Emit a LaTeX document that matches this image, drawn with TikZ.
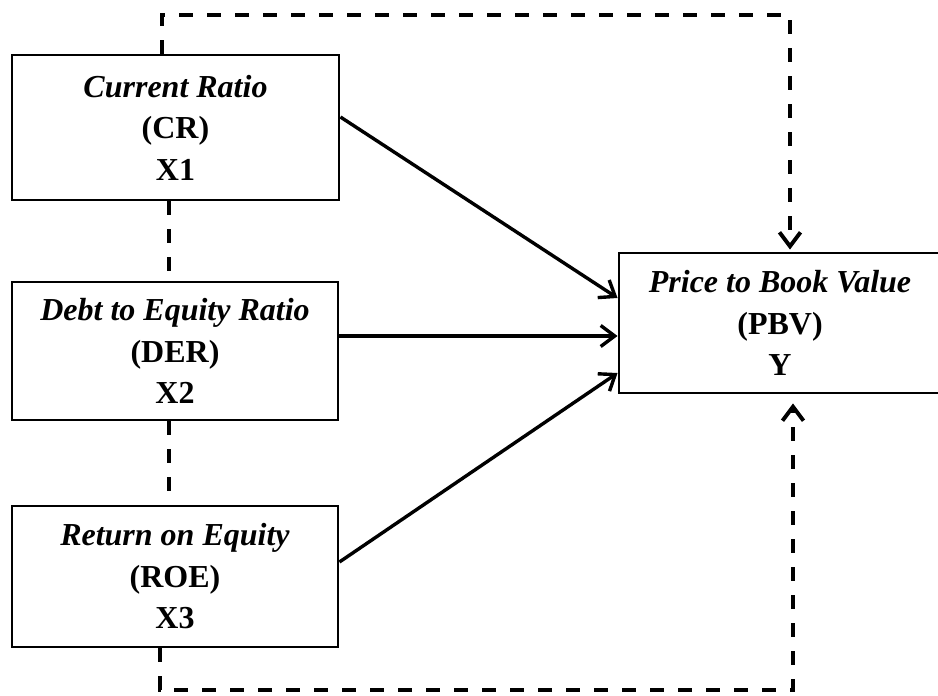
\documentclass[tikz,border=0pt]{standalone}
\usepackage{fontspec}
\setmainfont{Liberation Serif}
\usetikzlibrary{arrows.meta}
\begin{document}
\begin{tikzpicture}[x=1pt,y=-1pt,
  box/.style={draw,line width=2.9pt,rectangle,align=center,inner sep=0pt,
    font=\fontsize{32}{41.5}\selectfont\bfseries},
  solidarrow/.style={line width=3.4pt,-{Straight Barb[length=14pt,width=21pt]}},
  dashline/.style={line width=3.9pt,dash pattern=on 14pt off 14pt},
  dasharrow/.style={dashline,-{Straight Barb[length=14pt,width=21pt]}}]
\useasboundingbox (0,0) rectangle (938,696);
\node[box,minimum width=327pt,minimum height=145pt] (cr) at (175.5,127.5)
  {\textit{Current Ratio}\\ (CR)\\ X1};
\node[box,minimum width=326pt,minimum height=138pt] (der) at (175,351)
  {\textit{Debt to Equity Ratio}\\ (DER)\\ X2};
\node[box,minimum width=326pt,minimum height=141pt] (roe) at (175,576.5)
  {\textit{Return on Equity}\\ (ROE)\\ X3};
\node[box,minimum width=322pt,minimum height=140pt] (pbv) at (780,323)
  {\textit{Price to Book Value}\\ (PBV)\\ Y};
% solid arrows
\draw[solidarrow] ([yshift=10.5pt]cr.east) -- ([yshift=25pt]pbv.west);
\draw[solidarrow] ([yshift=15pt]der.east) -- ([yshift=-13pt]pbv.west);
\draw[solidarrow] ([yshift=14.5pt]roe.east) -- ([yshift=-50pt]pbv.west);
% dashed connectors
\coordinate (tl) at (162,15);
\coordinate (tr) at (790,15);
\coordinate (bl) at (160,690);
\coordinate (br) at (793,690);
\coordinate (mx) at (169,0);
\draw[dasharrow] (cr.north -| tl) -- (tl) -- (tr) -- ([yshift=2pt]tr |- pbv.north);
\draw[dasharrow,shorten >=9pt] (roe.south -| bl) -- (bl) -- (br) -- (br |- pbv.south);
\draw[dashline] (cr.south -| mx) -- (der.north -| mx);
\draw[dashline] (der.south -| mx) -- (roe.north -| mx);
\end{tikzpicture}
\end{document}
